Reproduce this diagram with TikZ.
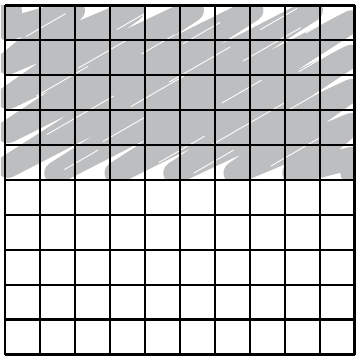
\documentclass[tikz,border=0pt]{standalone}
\usepackage{tikz}

\definecolor{scribblegray}{RGB}{189,190,192}

\begin{document}
\begin{tikzpicture}[
    scribble/.style={draw=scribblegray,line width=0.65cm,line cap=round,
        line join=round},
    streak/.style={draw=white,line width=0.7pt,line cap=round},
    grid line/.style={draw=black,line width=0.085cm}
]
    \useasboundingbox (-0.143,-0.029) rectangle (10.029,10.143);

    % zigzag ends on the shaded band (top five rows)
    \foreach \c [count=\i from 0] in {-0.45,-0.08,0.38,0.76,1.22,1.6,2.08,
            2.45,2.92,3.3,3.78,4.15,4.62,5.0,5.48,5.85,6.32,6.7,7.18,7.55,
            8.02,8.45} {
        \ifodd\i
            \pgfmathsetmacro\px{min(9.9,(0.866*9.85-\c)/0.5)}
        \else
            \pgfmathsetmacro\px{max(0.08,(0.866*5.2-\c)/0.5)}
        \fi
        \pgfmathsetmacro\py{(\c+0.5*\px)/0.866}
        \coordinate (s\i) at (\px,\py);
    }

    \begin{scope}
        \clip (-0.12,5) rectangle (10.1,10);
        \draw[scribble] (s0) \foreach \i in {1,...,21} { -- (s\i) };
        \foreach \x/\y/\l in {1.2/6.3/2.2,3.6/7.1/1.8,5.9/6.0/2.4,
                2.1/8.2/1.6,6.8/8.4/1.9,4.4/5.5/1.5,8.1/7.0/1.4,
                0.6/9.1/1.3,3.2/9.3/1.5,7.6/5.4/1.6,5.1/8.9/1.2,
                1.7/5.3/1.1,8.6/9.2/1.0,0.9/7.4/1.7,4.7/7.8/2.0,
                2.8/6.1/1.4,6.2/7.2/1.3,7.3/9.3/1.2,3.9/8.6/1.1,
                5.4/5.2/1.3,8.4/8.1/1.2} {
            \draw[streak] (\x,\y) -- ++(30:\l);
        }
    \end{scope}

    \draw[grid line] (0,0) grid (10,10);
\end{tikzpicture}
\end{document}
